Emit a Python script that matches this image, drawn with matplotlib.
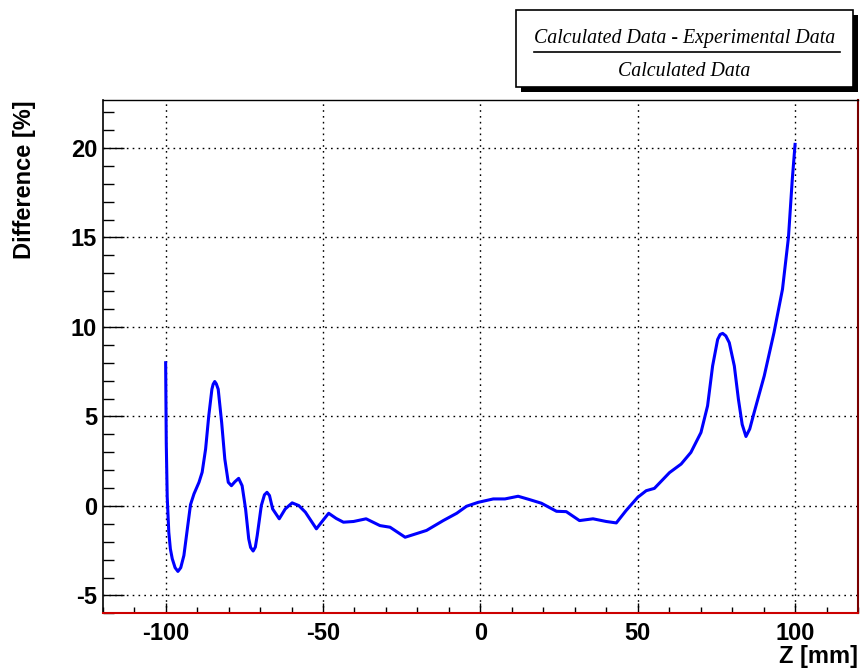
import matplotlib
matplotlib.use('Agg')
import matplotlib.pyplot as plt
from matplotlib.patches import Rectangle
from matplotlib.lines import Line2D
from matplotlib.ticker import MultipleLocator

# relative difference along the beam axis
z_mm = [-100.0, -99.8, -99.5, -99.0, -98.5, -97.9, -97.0, -96.1, -95.2, -94.2,
        -93.1, -92.1, -91.0, -89.4, -88.4, -87.3, -86.3, -85.3, -84.9, -84.4,
        -83.9, -83.3, -82.2, -81.2, -80.1, -79.1, -78.0, -76.8, -75.7, -74.6,
        -73.6, -73.0, -72.2, -71.5, -70.9, -69.6, -68.6, -67.8, -67.0, -66.0,
        -63.9, -62.0, -59.8, -57.7, -55.6, -52.1, -50.2, -48.2, -45.8, -43.5,
        -40.3, -36.3, -31.9, -28.7, -23.9, -17.1, -11.8, -7.5, -4.4, -0.7,
        4.1, 7.8, 12.0, 15.7, 19.4, 24.2, 27.3, 31.5, 35.8, 40.0,
        43.2, 46.3, 50.0, 52.7, 55.3, 60.1, 63.8, 66.9, 70.1, 72.2,
        73.8, 75.4, 76.2, 77.0, 78.0, 79.1, 80.7, 82.0, 83.2, 84.4,
        85.6, 87.0, 90.2, 93.3, 96.0, 97.9, 99.1, 100.0]
diff_pct = [8.0, 3.5, 0.5, -1.47, -2.40, -2.95, -3.45, -3.66, -3.45, -2.77,
            -1.28, 0.07, 0.67, 1.32, 1.88, 3.18, 5.03, 6.52, 6.80, 6.95,
            6.82, 6.52, 4.66, 2.62, 1.32, 1.13, 1.35, 1.54, 1.13, -0.17,
            -1.84, -2.32, -2.52, -2.30, -1.65, 0.02, 0.62, 0.76, 0.58, -0.17,
            -0.72, -0.17, 0.17, 0.02, -0.35, -1.28, -0.85, -0.41, -0.70, -0.91,
            -0.87, -0.72, -1.10, -1.19, -1.75, -1.37, -0.82, -0.41, -0.02, 0.20,
            0.39, 0.39, 0.54, 0.35, 0.15, -0.30, -0.32, -0.82, -0.72, -0.87,
            -0.95, -0.26, 0.48, 0.85, 0.98, 1.86, 2.34, 2.99, 4.10, 5.59,
            7.82, 9.30, 9.58, 9.64, 9.50, 9.12, 7.82, 5.96, 4.55, 3.88,
            4.30, 5.22, 7.26, 9.68, 12.1, 15.0, 18.2, 20.2]

x_ticks = [-100, -50, 0, 50, 100]
y_ticks = [-5, 0, 5, 10, 15, 20]

W, H = 863, 670
fig = plt.figure(figsize=(W / 100, H / 100), dpi=100)
ax = fig.add_axes([102.7 / W, 1 - 613.3 / H, (858 - 102.7) / W, (613.3 - 100) / H])

ax.plot(z_mm, diff_pct, color='#0000ff', lw=2.2, solid_joinstyle='round')

ax.set_xlim(-120, 120)
ax.set_ylim(-6.0, 22.68)
ax.set_xticks(x_ticks)
ax.set_yticks(y_ticks)
ax.xaxis.set_minor_locator(MultipleLocator(10))
ax.yaxis.set_minor_locator(MultipleLocator(1))
ax.grid(True, which='major', color='black', lw=1.0, ls=(0, (1.2, 3)))

lab_font = dict(family='Liberation Sans', weight='bold', size=17)
ax.set_xticklabels([str(v) for v in x_ticks], **lab_font)
ax.set_yticklabels([str(v) for v in y_ticks], **lab_font)
ax.tick_params(axis='x', which='major', direction='in', length=7, width=1, pad=6)
ax.tick_params(axis='x', which='minor', direction='in', length=4, width=1)
ax.tick_params(axis='y', which='major', direction='in', length=15, width=1, pad=4)
ax.tick_params(axis='y', which='minor', direction='in', length=8, width=1)

ax.spines['left'].set_linewidth(1.2)
ax.spines['top'].set_linewidth(1.0)
ax.spines['bottom'].set_color('#cc0000')
ax.spines['bottom'].set_linewidth(1.5)
ax.spines['right'].set_color('#7a0000')
ax.spines['right'].set_linewidth(1.5)

fig.text(25 / W, 1 - 100 / H, 'Difference [%]', rotation=90, ha='center', va='top', **lab_font)
fig.text(858 / W, 1 - 656 / H, 'Z [mm]', ha='right', va='center', **lab_font)

# title box with drop shadow
bx0, by0, bx1, by1 = 516, 10, 853, 87
fig.patches.append(Rectangle(((bx0 + 5) / W, 1 - (by1 + 5) / H), (bx1 - bx0) / W, (by1 - by0) / H,
                             transform=fig.transFigure, facecolor='black', edgecolor='none'))
fig.patches.append(Rectangle((bx0 / W, 1 - by1 / H), (bx1 - bx0) / W, (by1 - by0) / H,
                             transform=fig.transFigure, facecolor='white', edgecolor='black', lw=1.2))
title_font = dict(family='Liberation Serif', style='italic', size=14.3)
cx = (bx0 + bx1) / 2 / W
fig.text(cx, 1 - 38 / H, 'Calculated Data - Experimental Data', ha='center', va='center', **title_font)
fig.lines.append(Line2D([534 / W, 840 / W], [1 - 52 / H, 1 - 52 / H], transform=fig.transFigure,
                        color='black', lw=1.2))
fig.text(cx, 1 - 71 / H, 'Calculated Data', ha='center', va='center', **title_font)

fig.savefig('out.png', dpi=100)
